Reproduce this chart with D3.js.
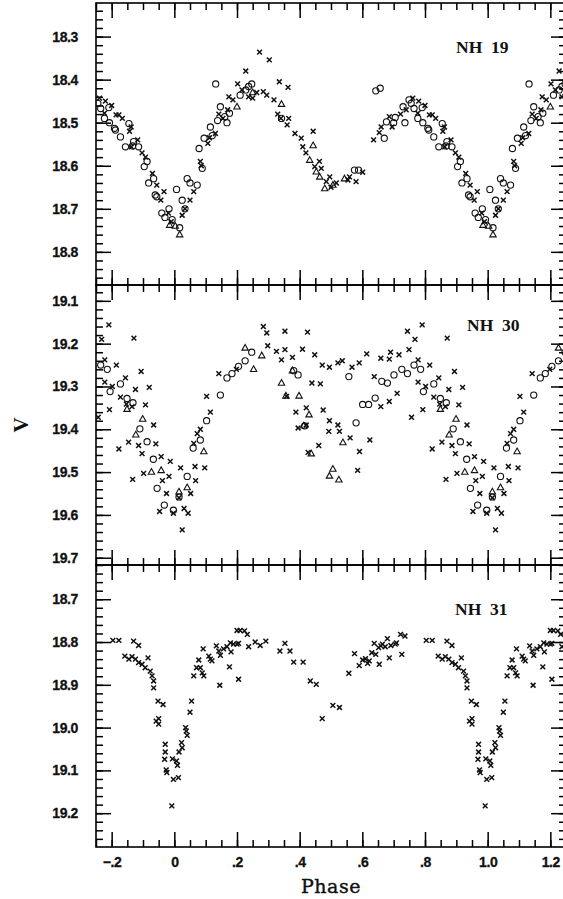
<!DOCTYPE html>
<html><head><meta charset="utf-8">
<script src="https://cdn.jsdelivr.net/npm/d3@7/dist/d3.min.js"></script>
<style>body{margin:0;background:#fff}svg{display:block}</style>
</head><body>
<script>
// ---------- data (phase in [0,1); the plot repeats each point one cycle to either side) ----------
const phaseTicks = [-0.2, 0, 0.2, 0.4, 0.6, 0.8, 1.0, 1.2];
const phaseTickLabels = ["\u2212.2", "0", ".2", ".4", ".6", ".8", "1.0", "1.2"];
const starNames = ["NH\u00a0\u00a019", "NH\u00a0\u00a030", "NH\u00a0\u00a031"];
const vDomains = [[18.222, 18.877], [19.063, 19.717], [18.62, 19.279]];
const vTicks19 = [18.3, 18.4, 18.5, 18.6, 18.7, 18.8];
const vTicks30 = [19.1, 19.2, 19.3, 19.4, 19.5, 19.6, 19.7];
const vTicks31 = [18.7, 18.8, 18.9, 19.0, 19.1, 19.2];

const nh19Cross = [[0.025,18.715],[0.034,18.70],[0.05,18.68],[0.062,18.66],[0.083,18.59],[0.086,18.60],[0.107,18.548],[0.112,18.535],[0.131,18.525],[0.142,18.48],[0.155,18.49],[0.17,18.47],[0.174,18.44],[0.187,18.447],[0.202,18.41],[0.216,18.424],[0.228,18.38],[0.237,18.44],[0.25,18.443],[0.263,18.43],[0.272,18.336],[0.284,18.428],[0.295,18.436],[0.303,18.354],[0.318,18.447],[0.33,18.48],[0.335,18.405],[0.34,18.49],[0.36,18.505],[0.363,18.418],[0.365,18.49],[0.385,18.525],[0.405,18.536],[0.41,18.556],[0.42,18.57],[0.443,18.52],[0.448,18.602],[0.463,18.59],[0.469,18.606],[0.485,18.637],[0.496,18.626],[0.5,18.65],[0.517,18.64],[0.554,18.633],[0.559,18.626],[0.58,18.637],[0.601,18.615],[0.636,18.54],[0.654,18.523],[0.66,18.51],[0.686,18.486],[0.695,18.51],[0.722,18.48],[0.74,18.47],[0.761,18.443],[0.777,18.478],[0.78,18.45],[0.8,18.46],[0.814,18.482],[0.823,18.482],[0.834,18.49],[0.857,18.52],[0.862,18.51],[0.863,18.556],[0.883,18.54],[0.897,18.57],[0.908,18.58],[0.93,18.618],[0.944,18.645],[0.957,18.68],[0.967,18.66],[0.981,18.71],[0.99,18.73]];
const nh19Circle = [[0.007,18.655],[0.017,18.744],[0.025,18.68],[0.034,18.70],[0.041,18.63],[0.05,18.64],[0.073,18.645],[0.079,18.56],[0.089,18.606],[0.095,18.536],[0.115,18.51],[0.121,18.53],[0.132,18.41],[0.138,18.495],[0.147,18.463],[0.161,18.486],[0.168,18.5],[0.176,18.478],[0.21,18.436],[0.228,18.424],[0.237,18.416],[0.247,18.41],[0.342,18.49],[0.575,18.61],[0.588,18.61],[0.643,18.426],[0.657,18.42],[0.67,18.536],[0.677,18.498],[0.7,18.5],[0.705,18.488],[0.73,18.463],[0.736,18.5],[0.749,18.447],[0.756,18.455],[0.765,18.467],[0.777,18.49],[0.791,18.465],[0.793,18.5],[0.809,18.513],[0.812,18.517],[0.828,18.533],[0.844,18.556],[0.855,18.502],[0.867,18.554],[0.87,18.544],[0.886,18.556],[0.904,18.602],[0.913,18.59],[0.918,18.64],[0.934,18.63],[0.939,18.668],[0.944,18.672],[0.96,18.71],[0.97,18.72],[0.983,18.70],[0.993,18.725]];
const nh19Tri = [[0.003,18.74],[0.017,18.76],[0.2,18.463],[0.25,18.43],[0.342,18.457],[0.432,18.587],[0.443,18.553],[0.453,18.614],[0.464,18.626],[0.48,18.653],[0.506,18.645],[0.543,18.63],[0.985,18.738]];

const nh30Cross = [[0.015,19.56],[0.02,19.49],[0.025,19.635],[0.031,19.585],[0.044,19.596],[0.052,19.55],[0.062,19.433],[0.066,19.487],[0.068,19.52],[0.073,19.41],[0.083,19.40],[0.097,19.49],[0.103,19.323],[0.115,19.36],[0.142,19.27],[0.198,19.26],[0.284,19.16],[0.295,19.175],[0.298,19.205],[0.326,19.218],[0.342,19.238],[0.353,19.171],[0.353,19.214],[0.358,19.323],[0.377,19.232],[0.388,19.36],[0.395,19.397],[0.409,19.213],[0.421,19.35],[0.421,19.39],[0.425,19.173],[0.427,19.454],[0.439,19.292],[0.448,19.226],[0.461,19.438],[0.466,19.294],[0.472,19.25],[0.475,19.355],[0.493,19.405],[0.495,19.255],[0.495,19.38],[0.522,19.245],[0.522,19.39],[0.527,19.405],[0.536,19.24],[0.561,19.42],[0.567,19.255],[0.585,19.496],[0.59,19.245],[0.591,19.452],[0.614,19.224],[0.624,19.425],[0.638,19.277],[0.659,19.234],[0.659,19.347],[0.686,19.236],[0.686,19.335],[0.69,19.22],[0.711,19.316],[0.717,19.226],[0.744,19.171],[0.749,19.214],[0.757,19.372],[0.768,19.19],[0.778,19.238],[0.778,19.29],[0.791,19.156],[0.793,19.354],[0.802,19.30],[0.815,19.25],[0.823,19.446],[0.828,19.325],[0.844,19.28],[0.847,19.341],[0.854,19.43],[0.865,19.347],[0.867,19.517],[0.871,19.187],[0.876,19.307],[0.886,19.438],[0.894,19.265],[0.897,19.457],[0.902,19.503],[0.908,19.343],[0.92,19.302],[0.934,19.39],[0.941,19.434],[0.953,19.592],[0.958,19.464],[0.962,19.52],[0.975,19.55],[0.983,19.51],[0.987,19.475],[0.997,19.596]];
const nh30Circle = [[0.015,19.558],[0.041,19.51],[0.06,19.444],[0.083,19.425],[0.103,19.38],[0.147,19.32],[0.168,19.28],[0.184,19.27],[0.205,19.253],[0.226,19.24],[0.247,19.22],[0.381,19.263],[0.395,19.273],[0.416,19.392],[0.557,19.277],[0.58,19.385],[0.601,19.342],[0.62,19.342],[0.641,19.327],[0.662,19.288],[0.68,19.292],[0.701,19.273],[0.726,19.26],[0.744,19.27],[0.765,19.25],[0.786,19.26],[0.795,19.312],[0.828,19.294],[0.849,19.328],[0.868,19.338],[0.89,19.399],[0.913,19.429],[0.933,19.47],[0.945,19.538],[0.968,19.577],[0.997,19.589]];
const nh30Tri = [[0.015,19.546],[0.041,19.536],[0.094,19.452],[0.226,19.21],[0.253,19.26],[0.279,19.228],[0.342,19.292],[0.356,19.322],[0.377,19.263],[0.398,19.322],[0.413,19.392],[0.43,19.366],[0.437,19.457],[0.495,19.509],[0.506,19.493],[0.525,19.518],[0.538,19.431],[0.849,19.353],[0.877,19.413],[0.899,19.376],[0.927,19.50],[0.958,19.496]];

const nh31Cross = [[0.007,19.078],[0.01,19.088],[0.013,19.117],[0.015,19.057],[0.023,19.035],[0.025,19.047],[0.036,19.0],[0.038,19.008],[0.041,19.018],[0.05,18.964],[0.055,18.938],[0.062,18.879],[0.071,18.86],[0.078,18.842],[0.083,18.86],[0.089,18.872],[0.092,18.816],[0.094,18.879],[0.11,18.833],[0.115,18.84],[0.12,18.844],[0.134,18.809],[0.142,18.821],[0.145,18.901],[0.147,18.831],[0.157,18.816],[0.168,18.811],[0.176,18.858],[0.179,18.802],[0.181,18.823],[0.189,18.805],[0.2,18.805],[0.2,18.773],[0.205,18.803],[0.205,18.887],[0.21,18.773],[0.224,18.774],[0.233,18.782],[0.237,18.811],[0.258,18.80],[0.274,18.808],[0.292,18.798],[0.337,18.821],[0.353,18.803],[0.369,18.821],[0.381,18.847],[0.411,18.847],[0.434,18.891],[0.453,18.899],[0.472,18.979],[0.506,18.948],[0.527,18.953],[0.557,18.873],[0.575,18.827],[0.59,18.855],[0.601,18.842],[0.61,18.839],[0.617,18.85],[0.622,18.844],[0.63,18.825],[0.638,18.803],[0.643,18.829],[0.652,18.813],[0.654,18.852],[0.659,18.809],[0.664,18.805],[0.673,18.811],[0.68,18.792],[0.686,18.837],[0.691,18.808],[0.705,18.805],[0.709,18.802],[0.722,18.782],[0.726,18.829],[0.736,18.786],[0.804,18.796],[0.823,18.796],[0.842,18.833],[0.855,18.84],[0.865,18.834],[0.87,18.798],[0.876,18.84],[0.886,18.808],[0.886,18.848],[0.897,18.852],[0.907,18.86],[0.916,18.837],[0.923,18.868],[0.929,18.879],[0.934,18.891],[0.934,18.907],[0.942,18.985],[0.948,18.938],[0.95,18.979],[0.95,18.992],[0.964,18.946],[0.969,19.074],[0.971,19.039],[0.971,19.057],[0.974,19.099],[0.976,19.105],[0.992,19.183],[0.994,19.073],[0.997,19.121]];
const nh31Circle = [];
const nh31Tri = [];

// ---------- drawing ----------
const W = 563, H = 899;
const svg = d3.select("body").append("svg").attr("width", W).attr("height", H);
const x = d3.scaleLinear().domain([-0.25, 1.25]).range([96, 566]);
const panelTops = [3, 285, 565];
const panelH = [282, 280, 282];
const panels = [
  {name: starNames[0], dom: vDomains[0], ticks: vTicks19, cross: nh19Cross, circ: nh19Circle, tri: nh19Tri, lx: 456, ly: 53},
  {name: starNames[1], dom: vDomains[1], ticks: vTicks30, cross: nh30Cross, circ: nh30Circle, tri: nh30Tri, lx: 467, ly: 331},
  {name: starNames[2], dom: vDomains[2], ticks: vTicks31, cross: nh31Cross, circ: nh31Circle, tri: nh31Tri, lx: 455, ly: 615}
];

function expand(arr) {
  const out = [];
  arr.forEach(([p, v]) => {
    [-1, 0, 1].forEach(k => {
      const q = p + k;
      if (q >= -0.25 && q <= 1.25) out.push([q, v]);
    });
  });
  return out;
}
function steps(a, b, s) {
  const n = Math.round((b - a) / s);
  return d3.range(n + 1).map(i => +(a + i * s).toFixed(4));
}
const xMinor = steps(-0.25, 1.25, 0.05);
const sansFont = "'Liberation Sans', Arial, sans-serif";
const serifFont = "'Liberation Serif', 'Times New Roman', serif";

panels.forEach((P, i) => {
  const top = panelTops[i], h = panelH[i];
  const y = d3.scaleLinear().domain(P.dom).range([top, top + h]);
  const g = svg.append("g");
  const clipId = "clip" + i;
  svg.append("clipPath").attr("id", clipId).append("rect")
    .attr("x", x.range()[0]).attr("y", top).attr("width", x.range()[1] - x.range()[0]).attr("height", h);

  const yMinor = steps(Math.ceil(P.dom[0] * 50) / 50, Math.floor(P.dom[1] * 50) / 50, 0.02);
  const styleAxis = sel => {
    sel.select(".domain").remove();
    sel.selectAll(".tick line").attr("stroke", "#000").attr("stroke-width", 1.5);
  };
  // left
  g.append("g").attr("transform", `translate(${x.range()[0]},0)`)
    .call(d3.axisLeft(y).tickValues(yMinor).tickSize(-7).tickFormat("")).call(styleAxis);
  g.append("g").attr("transform", `translate(${x.range()[0]},0)`)
    .call(d3.axisLeft(y).tickValues(P.ticks).tickSize(-15).tickPadding(18).tickFormat(d3.format(".1f")))
    .call(styleAxis)
    .call(s => s.selectAll("text").attr("font-family", sansFont).attr("font-weight", "bold")
      .attr("font-size", 14).attr("letter-spacing", -0.4).attr("fill", "#111")
      .attr("stroke", "#111").attr("stroke-width", 0.3));
  // right
  g.append("g").attr("transform", `translate(${x.range()[1]},0)`)
    .call(d3.axisRight(y).tickValues(yMinor).tickSize(-7).tickFormat("")).call(styleAxis);
  g.append("g").attr("transform", `translate(${x.range()[1]},0)`)
    .call(d3.axisRight(y).tickValues(P.ticks).tickSize(-15).tickFormat("")).call(styleAxis);
  // top
  g.append("g").attr("transform", `translate(0,${top})`)
    .call(d3.axisTop(x).tickValues(xMinor).tickSize(-7).tickFormat("")).call(styleAxis);
  g.append("g").attr("transform", `translate(0,${top})`)
    .call(d3.axisTop(x).tickValues(phaseTicks).tickSize(-15).tickFormat("")).call(styleAxis);
  // bottom
  g.append("g").attr("transform", `translate(0,${top + h})`)
    .call(d3.axisBottom(x).tickValues(xMinor).tickSize(-7).tickFormat("")).call(styleAxis);
  const bx = g.append("g").attr("transform", `translate(0,${top + h})`)
    .call(d3.axisBottom(x).tickValues(phaseTicks).tickSize(-15).tickPadding(10)
      .tickFormat((d, k) => i === 2 ? phaseTickLabels[k] : ""))
    .call(styleAxis);
  bx.selectAll("text").attr("font-family", sansFont).attr("font-weight", "bold")
    .attr("font-size", 14).attr("letter-spacing", -0.4).attr("fill", "#111")
    .attr("stroke", "#111").attr("stroke-width", 0.3);

  // frame
  g.append("rect").attr("x", x.range()[0]).attr("y", top)
    .attr("width", x.range()[1] - x.range()[0]).attr("height", h)
    .attr("fill", "none").attr("stroke", "#000").attr("stroke-width", 1.6);

  // points
  const pg = g.append("g").attr("clip-path", `url(#${clipId})`)
    .attr("fill", "none").attr("stroke", "#111");
  pg.selectAll(".cx").data(expand(P.cross)).join("path")
    .attr("transform", d => `translate(${x(d[0])},${y(d[1])})`)
    .attr("d", "M-2.4,-2.4L2.4,2.4M-2.4,2.4L2.4,-2.4").attr("stroke-width", 1.5);
  pg.selectAll(".ci").data(expand(P.circ)).join("circle")
    .attr("cx", d => x(d[0])).attr("cy", d => y(d[1])).attr("r", 3.1).attr("stroke-width", 1.1);
  pg.selectAll(".tr").data(expand(P.tri)).join("path")
    .attr("transform", d => `translate(${x(d[0])},${y(d[1])})`)
    .attr("d", "M0,-3.5L3.2,2.2L-3.2,2.2Z").attr("stroke-width", 1.1);

  g.append("text").attr("x", P.lx).attr("y", P.ly).text(P.name)
    .attr("font-family", serifFont).attr("font-weight", "bold").attr("font-size", 17.5).attr("fill", "#111");
});

svg.append("text").attr("transform", "translate(28,425) rotate(-90)")
  .attr("text-anchor", "middle").attr("font-family", serifFont).attr("font-weight", "bold")
  .attr("font-size", 21).attr("fill", "#111").text("V");
svg.append("text").attr("x", 331).attr("y", 893).attr("text-anchor", "middle")
  .attr("font-family", "'DejaVu Serif', serif").attr("font-size", 19).attr("letter-spacing", 0.5)
  .attr("stroke", "#111").attr("stroke-width", 0.4)
  .attr("fill", "#111").text("Phase");
</script>
</body></html>
